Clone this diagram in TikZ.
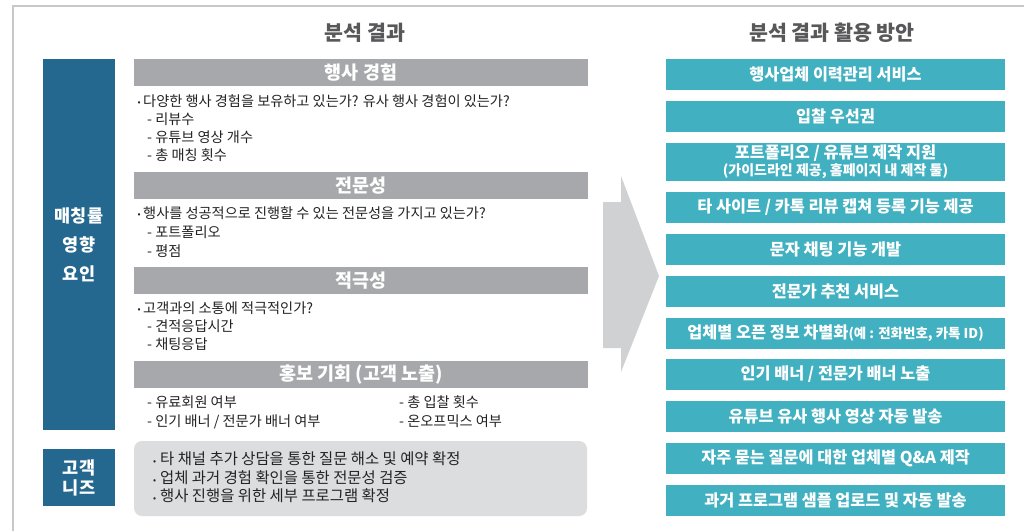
\documentclass[tikz,border=0pt]{standalone}
\usepackage{fontspec}
\setmainfont{Noto Sans CJK KR}
\definecolor{framec}{RGB}{200,200,202}
\definecolor{titlec}{RGB}{88,88,90}
\definecolor{textc}{RGB}{35,35,35}
\definecolor{bluec}{RGB}{37,104,143}
\definecolor{tealc}{RGB}{65,176,192}
\definecolor{barc}{RGB}{167,168,171}
\definecolor{needc}{RGB}{220,221,223}
\definecolor{arrowc}{RGB}{208,209,211}
\tikzset{
  title/.style={inner sep=0, text=titlec, font=\fontsize{20.6}{22}\selectfont\bfseries},
  bluebox/.style={fill=bluec, inner sep=0, text=white, align=center, minimum width=72pt},
  bar/.style={fill=barc, inner sep=0, text=white, minimum width=454pt, minimum height=27pt, font=\fontsize{18.5}{20}\selectfont\bfseries},
  tealbox/.style={fill=tealc, inner sep=0, text=white, align=center, minimum width=339pt, minimum height=31pt, font=\fontsize{16.3}{18}\selectfont\bfseries},
  txt/.style={anchor=base west, inner sep=0, text=textc, font=\fontsize{14.2}{16}\selectfont},
  ntxt/.style={anchor=base west, inner sep=0, text=textc, font=\fontsize{15.4}{17}\selectfont},
  bul/.style={anchor=base west, inner sep=0, text=textc, font=\fontsize{9}{10}\selectfont}
}
\begin{document}
\begin{tikzpicture}[x=1pt,y=-1pt]
\useasboundingbox (0,0) rectangle (1024,531);
\fill[white] (0,0) rectangle (1024,531);
\draw[framec, line width=1.2pt] (13,531) -- (13,6) -- (1024,6);

% titles
\node[title] (t1) at (365,33) {분석 결과};
\node[title] (t2) at (832,33) {분석 결과 활용 방안};

% left blue boxes
\node[bluebox, minimum height=371pt, font=\fontsize{17.5}{29}\selectfont\bfseries] (f1) at (79,244.5) {매칭률\\영향\\요인};
\node[bluebox, minimum height=57pt, font=\fontsize{17.5}{20}\selectfont\bfseries] (f2) at (79,477.5) {고객\\니즈};

% header bars
\node[bar] (h1) at (361,72.5) {행사 경험};
\node[bar] (h2) at (361,185.5) {전문성};
\node[bar] (h3) at (361,280.5) {적극성};
\node[bar] (h4) at (361,374.5) {홍보 기회 (고객 노출)};

% section 1
\node[bul] (b1) at (137.5,105.5) {•};
\node[txt] (s1a) at (143,106.5) {다양한 행사 경험을 보유하고 있는가? 유사 행사 경험이 있는가?};
\node[txt] (s1b) at (147,124.5) {- 리뷰수};
\node[txt] (s1c) at (147,142.5) {- 유튜브 영상 개수};
\node[txt] (s1d) at (147,160.5) {- 총 매칭 횟수};

% section 2
\node[bul] (b2) at (137.5,217.5) {•};
\node[txt] (s2a) at (143,218.5) {행사를 성공적으로 진행할 수 있는 전문성을 가지고 있는가?};
\node[txt] (s2b) at (147,237.5) {- 포트폴리오};
\node[txt] (s2c) at (147,256.5) {- 평점};

% section 3
\node[bul] (b3) at (137.5,312.5) {•};
\node[txt] (s3a) at (143,313.5) {고객과의 소통에 적극적인가?};
\node[txt] (s3b) at (147,331.5) {- 견적응답시간};
\node[txt] (s3c) at (147,349.5) {- 채팅응답};

% section 4
\node[txt] (s4a) at (147,407.5) {- 유료회원 여부};
\node[txt] (s4b) at (147,426.5) {- 인기 배너 / 전문가 배너 여부};
\node[txt] (s4c) at (399,407.5) {- 총 입찰 횟수};
\node[txt] (s4d) at (399,426.5) {- 온오프믹스 여부};

% needs box
\node[fill=needc, rounded corners=8pt, inner sep=0, minimum width=453pt, minimum height=75pt] (nb) at (360.5,478.5) {};
\node[bul] (b5) at (153,464) {•};
\node[ntxt] (n1) at (160,464.5) {타 채널 추가 상담을 통한 질문 해소 및 예약 확정};
\node[bul] (b6) at (153,483) {•};
\node[ntxt] (n2) at (160,483.5) {업체 과거 경험 확인을 통한 전문성 검증};
\node[bul] (b7) at (153,501) {•};
\node[ntxt] (n3) at (160,501.5) {행사 진행을 위한 세부 프로그램 확정};

% big arrow
\fill[arrowc] (603,202) -- (621,202) -- (621,176) -- (659,276) -- (621,372) -- (621,348) -- (603,348) -- cycle;

% teal boxes
\node[tealbox] (r1) at (835.5,74.5) {행사업체 이력관리 서비스};
\node[tealbox] (r2) at (835.5,116.5) {입찰 우선권};
\node[tealbox, minimum height=38pt] (r3) at (835.5,162) {포트폴리오 / 유튜브 제작 지원\\[-1pt]{\fontsize{14}{15}\selectfont (가이드라인 제공, 홈페이지 내 제작 툴)}};
\node[tealbox] (r4) at (835.5,207.5) {타 사이트 / 카톡 리뷰 캡쳐 등록 기능 제공};
\node[tealbox] (r5) at (835.5,249.5) {문자 채팅 기능 개발};
\node[tealbox] (r6) at (835.5,291.5) {전문가 추천 서비스};
\node[tealbox] (r7) at (835.5,333.5) {업체별 오픈 정보 차별화{\fontsize{13.5}{15}\selectfont (예 : 전화번호, 카톡 ID)}};
\node[tealbox] (r8) at (835.5,374.5) {인기 배너 / 전문가 배너 노출};
\node[tealbox] (r9) at (835.5,416.5) {유튜브 유사 행사 영상 자동 발송};
\node[tealbox] (r10) at (835.5,458.5) {자주 묻는 질문에 대한 업체별 Q\&A 제작};
\node[tealbox] (r11) at (835.5,500.5) {과거 프로그램 샘플 업로드 및 자동 발송};
\end{tikzpicture}
\end{document}
